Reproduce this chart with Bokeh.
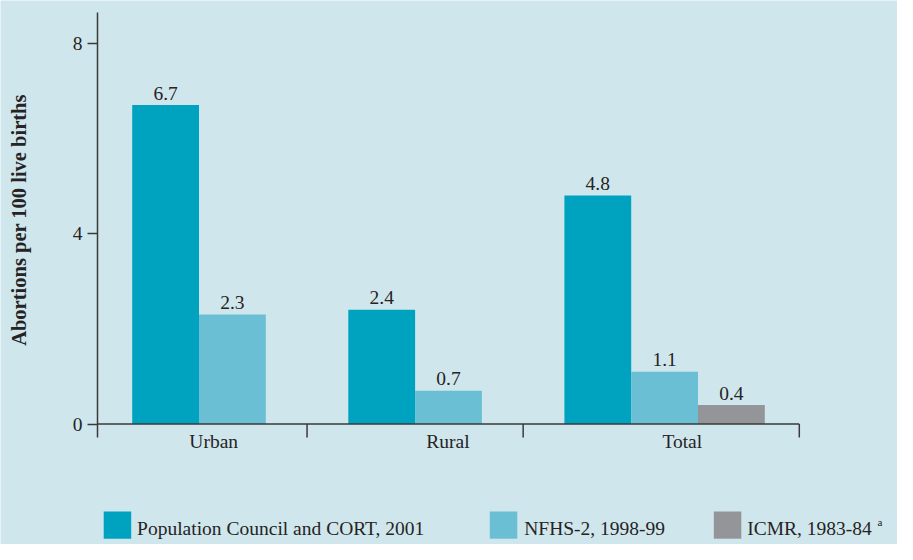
import math
from bokeh.plotting import figure
from bokeh.models import Range1d, LinearAxis, FixedTicker, ColumnDataSource
from bokeh.core.properties import value
from bokeh.embed import file_html
from bokeh.resources import INLINE

# ---- data ----
CATEGORIES = ["Urban", "Rural", "Total"]
SERIES = ["Population Council and CORT, 2001", "NFHS-2, 1998-99", "ICMR, 1983-84"]
POP_COUNCIL = [6.7, 2.4, 4.8]
NFHS2 = [2.3, 0.7, 1.1]
ICMR_CATS = ["Total"]
ICMR = [0.4]
Y_TICKS = [0, 4, 8]
Y_LABEL = "Abortions per 100 live births"
FOOTNOTE = "a"

# ---- styles ----
BG = "#cfe7ec"
COLORS = ["#00a3bf", "#6abfd4", "#949599"]
TXT = "#262324"
LINE = "#3a3a3a"
FONT = value("Liberation Serif")
FS = 19.5          # label font size (px)
LEG_FS = 19.5
SHIFT = 0.4        # empirical baseline correction (em)

# ---- layout constants (canvas pixels) ----
W, H = 897, 544
AXIS_X = 97               # y axis line
ZERO = 423.5              # canvas y of value 0
PPU = 47.6                # pixels per unit
AXIS_TOP, AXIS_BOT = 11.7, 437.0
GROUP_START = AXIS_X + 34.7
GROUP_STEP = 216.1
BAR_W = 66.8
OUTER_PAD_RIGHT = 34.5
LABEL_START = AXIS_X + 116.2
LABEL_STEP = 234.3
CAT_LABEL_DROP = 25.3

def vy(cy):
    """canvas y -> data value"""
    return (ZERO - cy) / PPU

p = figure(width=W, height=H, output_backend="svg", toolbar_location=None,
           x_range=Range1d(0, W), y_range=Range1d(vy(H), vy(0)),
           x_axis_location=None, y_axis_location=None,
           min_border_left=0, min_border_right=0, min_border_top=0, min_border_bottom=0,
           background_fill_color=BG, border_fill_color=BG, outline_line_color=None)
p.grid.visible = False

# ---- y axis ----
yaxis = LinearAxis(ticker=FixedTicker(ticks=Y_TICKS), bounds=(vy(AXIS_BOT), vy(AXIS_TOP)),
                   fixed_location=AXIS_X)
yaxis.major_label_text_font = "Liberation Serif"
yaxis.major_label_text_font_size = f"{FS}px"
yaxis.major_label_text_color = TXT
yaxis.major_label_standoff = 5
yaxis.major_tick_out = 10
yaxis.major_tick_in = 0
yaxis.minor_tick_out = 0
yaxis.minor_tick_in = 0
yaxis.axis_line_color = LINE
yaxis.axis_line_width = 1.5
yaxis.major_tick_line_color = LINE
yaxis.major_tick_line_width = 1.5
p.add_layout(yaxis, "left")

p.text(x=[18.5], y=[vy(219.5)], text=[Y_LABEL], angle=math.pi / 2,
       text_align="center", text_baseline="middle", text_font=FONT,
       text_font_style="bold", text_font_size="20.5px", text_color=TXT)

# ---- bars ----
def bar_x(i, j):
    return GROUP_START + GROUP_STEP * i + BAR_W * j + BAR_W / 2

series_vals = [
    (CATEGORIES, POP_COUNCIL),
    (CATEGORIES, NFHS2),
    (ICMR_CATS, ICMR),
]
for j, (cats, vals) in enumerate(series_vals):
    xs = [bar_x(CATEGORIES.index(c), j) for c in cats]
    src = ColumnDataSource(dict(x=xs, top=vals, lab=[f"{v:.1f}" for v in vals]))
    p.vbar(x="x", top="top", bottom=0, width=BAR_W, source=src,
           fill_color=COLORS[j], line_color=None)
    p.text(x="x", y="top", text="lab", source=src, text_align="center",
           text_baseline="alphabetic", y_offset=-4 - SHIFT * FS, text_font=FONT,
           text_font_size=f"{FS}px", text_color=TXT)

# ---- x axis (baseline and separators) ----
n_bars = [sum(1 for s in series_vals if c in s[0]) for c in CATEGORIES]
right_edges = [GROUP_START + GROUP_STEP * i + BAR_W * n for i, n in enumerate(n_bars)]
left_edges = [GROUP_START + GROUP_STEP * i for i in range(len(CATEGORIES))]
seps = [AXIS_X] + [(right_edges[i] + left_edges[i + 1]) / 2 for i in range(len(CATEGORIES) - 1)] \
       + [right_edges[-1] + OUTER_PAD_RIGHT]
p.segment(x0=[AXIS_X], y0=[0], x1=[seps[-1]], y1=[0], line_color=LINE, line_width=1.5)
p.segment(x0=seps[1:], y0=[0] * (len(seps) - 1), x1=seps[1:],
          y1=[vy(AXIS_BOT)] * (len(seps) - 1), line_color=LINE, line_width=1.5)

lab_src = ColumnDataSource(dict(x=[LABEL_START + LABEL_STEP * i for i in range(len(CATEGORIES))],
                                y=[0] * len(CATEGORIES), t=CATEGORIES))
p.text(x="x", y="y", text="t", source=lab_src, text_align="center", text_baseline="alphabetic",
       y_offset=CAT_LABEL_DROP - SHIFT * FS, text_font=FONT, text_font_size=f"{FS}px",
       text_color=TXT)

# ---- legend ----
LEG_SQ_X = [103.2, 489.3, 713.3]
LEG_TX_X = [136.6, 523.7, 746.7]
SQ = 27.5
p.quad(left=LEG_SQ_X, right=[x + SQ for x in LEG_SQ_X], top=[vy(511)] * 3, bottom=[vy(538.2)] * 3,
       fill_color=COLORS, line_color=None)
leg_src = ColumnDataSource(dict(x=LEG_TX_X, y=[vy(536.2)] * 3, t=SERIES))
p.text(x="x", y="y", text="t", source=leg_src, text_align="left", text_baseline="alphabetic",
       y_offset=-SHIFT * LEG_FS, text_font=FONT, text_font_size=f"{LEG_FS}px", text_color=TXT)
p.text(x=[877], y=[vy(525.5)], text=[FOOTNOTE], text_align="left",
       text_baseline="alphabetic", y_offset=-SHIFT * 11, text_font=FONT,
       text_font_size="11px", text_color=TXT)

open("out.html", "w").write(file_html(p, INLINE))
